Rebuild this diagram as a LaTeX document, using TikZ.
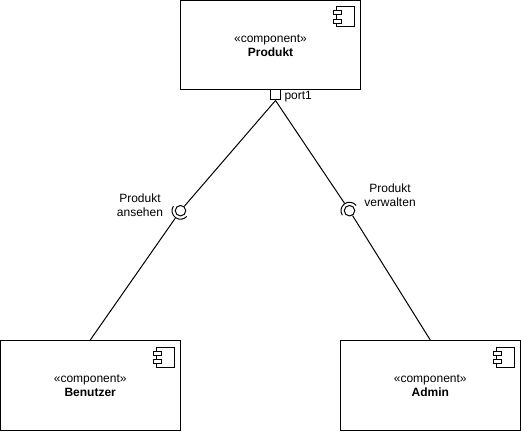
\documentclass[tikz,border=0pt]{standalone}
\usepackage{fontspec}
\setmainfont{Liberation Sans}
\tikzset{
  every node/.style={font=\fontsize{12}{14}\selectfont},
  compbox/.style={draw,fill=white,rectangle,minimum width=179.5pt,minimum height=89.5pt,inner sep=0pt,align=center},
  iconbody/.style={draw,fill=white},
  portbox/.style={draw,fill=white,minimum size=10pt,inner sep=0pt},
  ball/.style={draw,circle,minimum size=10.5pt,inner sep=0pt},
  sockethull/.style={circle,minimum size=17pt,inner sep=0pt},
  lbl/.style={align=center,inner sep=0pt},
}
\newcommand{\compicon}[1]{%
  \begin{scope}[shift={(#1)}]
    \draw[iconbody] (-24,-7) rectangle (-6.5,-27);
    \draw[iconbody] (-27.5,-11) rectangle (-19.5,-15);
    \draw[iconbody] (-27.5,-19.5) rectangle (-19.5,-23.5);
  \end{scope}}
\begin{document}
\begin{tikzpicture}[x=1pt,y=1pt,line width=1pt]
\useasboundingbox (0,0) rectangle (521,431);
\node[compbox] (produkt) at (270.5,385.75) {«component»\\\textbf{Produkt}};
\node[compbox] (benutzer) at (90.25,45.75) {«component»\\\textbf{Benutzer}};
\node[compbox] (admin) at (430.25,45.75) {«component»\\\textbf{Admin}};
\compicon{produkt.north east}
\compicon{benutzer.north east}
\compicon{admin.north east}
\node[portbox] (port) at (275.5,336) {};
\node[lbl,anchor=west] (portlabel) at (284,334) {port1};
\node[ball] (ballL) at (180.5,220.3) {};
\node[sockethull] (sockL) at (180.5,220.3) {};
\node[ball] (ballR) at (349.5,220.3) {};
\node[sockethull] (sockR) at (349.5,220.3) {};
\draw (ballL.center) ++(147:8.5) arc[start angle=147,end angle=318,radius=8.5];
\draw (ballR.center) ++(38:8.5) arc[start angle=38,end angle=212,radius=8.5];
\draw (port.south) -- (ballL);
\draw (benutzer.north) -- (sockL);
\draw (port.south) -- (sockR);
\draw (admin.north) -- (ballR);
\node[lbl] (lblL) at (140,226) {Produkt\\ansehen};
\node[lbl] (lblR) at (390,236) {Produkt\\verwalten};
\end{tikzpicture}
\end{document}
